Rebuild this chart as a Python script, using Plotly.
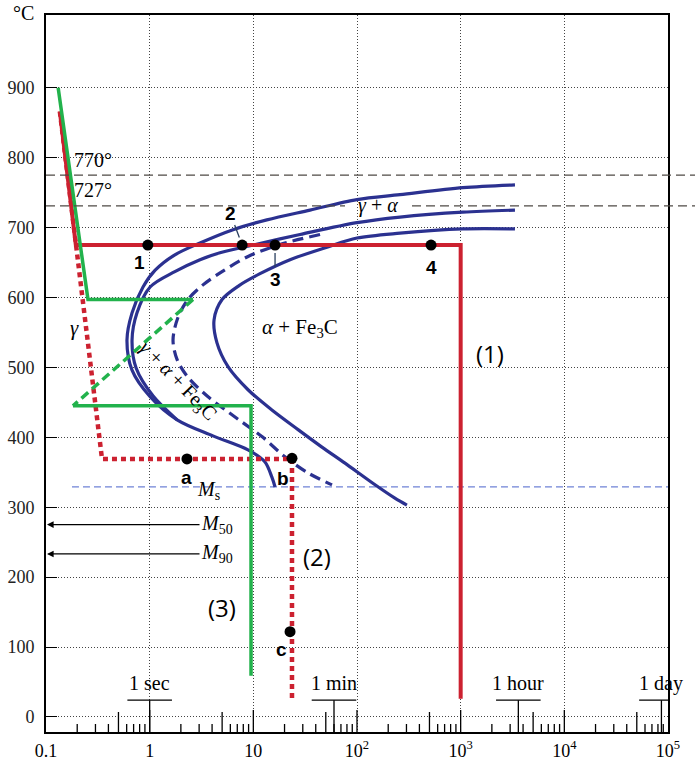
import numpy as np
import plotly.graph_objects as go

# ---------------- data (time in s, temperature in °C) ----------------
temp_ticks = [0, 100, 200, 300, 400, 500, 600, 700, 800, 900]
time_ticks = [0.1, 1, 10, 100, 1000, 1e4, 1e5]
time_tick_labels = ["0.1", "1", "10", "10<sup>2</sup>", "10<sup>3</sup>", "10<sup>4</sup>", "10<sup>5</sup>"]

# TTT curves
ferrite_start_t = [3340, 1050, 260, 100, 35.2, 13.5, 6.37, 3.06, 1.75, 1.13, 0.863, 0.676, 0.604,
                   0.676, 1.01, 1.84, 4.08, 8.89, 12.9, 15.1, 16.2]
ferrite_start_T = [761, 757, 747, 740, 725, 711, 697, 678, 661, 639, 615, 578, 539,
                   496, 458, 425, 402, 382, 365, 343, 329]
pearlite_start_t = [3340, 1050, 260, 100, 28.2, 9.93, 4.77, 3.06, 1.75, 1.01, 0.755, 0.676,
                    0.74, 1.08, 1.84]
pearlite_start_T = [725, 722, 715, 707, 690, 675, 664, 654, 637, 615, 578, 539,
                    499, 459, 425]
half_t = [44.0, 19.3, 9.29, 4.99, 3.27, 2.34, 1.87, 1.68, 1.84, 2.34, 3.66, 6.81, 12.1, 20.2, 33.7, 57.4]
half_T = [690, 677, 660, 637, 618, 597, 571, 539, 511, 486, 458, 428, 401, 372, 349, 332]
finish_t = [3340, 1050, 260, 100, 51.4, 22.6, 11.6, 7.28, 4.99, 4.18, 4.46, 5.70, 8.89, 15.1,
            27.0, 45.9, 76.6, 140, 232, 303]
finish_T = [698, 698, 692, 685, 672, 654, 634, 617, 597, 568, 535, 501, 468, 439,
            411, 386, 363, 335, 313, 303]

# cooling paths
path1_t = [0.136, 0.194, 1000, 1000]
path1_T = [866, 675, 675, 26]
path2_t = [0.136, 0.194, 0.347, 23.6, 23.6]
path2_T = [866, 675, 369, 369, 27]
path3_solid_a_t = [0.131, 0.254, 2.62]
path3_solid_a_T = [900, 597, 597]
path3_dash_t = [2.62, 0.182]
path3_dash_T = [597, 445]
path3_solid_b_t = [0.182, 9.5, 9.5]
path3_solid_b_T = [445, 445, 59]

# marked points
pts_num_t = [0.96, 7.8, 16.2, 518]
pts_num_T = [675, 675, 675, 675]
pts_let_t = [2.29, 23.6, 22.6]
pts_let_T = [369, 370, 122]

# reference temperatures
a3_T, a1_T = 775, 731
ms_T, m50_T, m90_T = 329, 278, 236

# time marks
time_mark_names = ["1 sec", "1 min", "1 hour", "1 day"]
time_mark_vals = [1, 60, 3600, 86400]

# ---------------- layout constants ----------------
XMIN, XMAX = -1, 5            # log10 range
YMIN, YMAX = -21.5, 1004
PLOT_W, PLOT_H = 622, 717
PX = (YMAX - YMIN) / PLOT_H   # °C per pixel

NAVY = "#2b3190"
RED = "#cc2130"
GREEN = "#22b24c"
SERIF = "Liberation Serif"
SANS = "Liberation Sans"

fig = go.Figure()

def line(t, T, color, width, dash="solid", shape="linear"):
    fig.add_trace(go.Scatter(x=t, y=T, mode="lines", showlegend=False, hoverinfo="skip",
                             line=dict(color=color, width=width, dash=dash, shape=shape,
                                       smoothing=0.9 if shape == "spline" else None)))

# bottom axis ticks (drawn inside)
tx, ty = [], []
for d in range(XMIN, XMAX):
    for m in range(2, 10):
        L = 20 if m == 5 else 8
        v = m * 10 ** d
        tx += [v, v, None]
        ty += [YMIN, YMIN + L * PX, None]
    if d + 1 < XMAX:
        v = 10 ** (d + 1)
        tx += [v, v, None]
        ty += [YMIN, YMIN + 22 * PX, None]
bar_T = 24
half_w = 0.215
for v in time_mark_vals:
    tx += [v, v, None, 10 ** (np.log10(v) - half_w), 10 ** (np.log10(v) + half_w), None]
    ty += [YMIN, bar_T, None, bar_T, bar_T, None]
fig.add_trace(go.Scatter(x=tx, y=ty, mode="lines", showlegend=False, hoverinfo="skip",
                         line=dict(color="black", width=1.3), cliponaxis=False))

# Ms line
line([0.178, 1e5], [ms_T, ms_T], "#6f82d6", 1.3, "7px,4px")

# TTT curves
line(ferrite_start_t, ferrite_start_T, NAVY, 3.2, shape="spline")
line(pearlite_start_t, pearlite_start_T, NAVY, 3.2, shape="spline")
line(finish_t, finish_T, NAVY, 3.2, shape="spline")
line(half_t, half_T, NAVY, 3.2, "11px,6px", shape="spline")

# cooling paths
line(path2_t, path2_T, RED, 4.5, "5px,4px")
line(path1_t, path1_T, RED, 4)
line(path3_dash_t, path3_dash_T, GREEN, 3.5, "9px,5px")
line(path3_solid_a_t, path3_solid_a_T, GREEN, 3.5)
line(path3_solid_b_t, path3_solid_b_T, GREEN, 3.5)

# points
fig.add_trace(go.Scatter(x=pts_num_t + pts_let_t, y=pts_num_T + pts_let_T, mode="markers",
                         showlegend=False, hoverinfo="skip",
                         marker=dict(color="black", size=11)))

ann = []
def text(t, T, s, size=20, family=SERIF, xshift=0, yshift=0, **kw):
    d = dict(x=np.log10(t), y=T, xref="x", yref="y", text=s, showarrow=False,
             xshift=xshift, yshift=yshift,
             font=dict(family=family, size=size, color="black"))
    d.update(kw)
    ann.append(d)

# point labels
num_shift = [(-8, -17), None, None, (0, -22)]
for i, (t, T) in enumerate(zip(pts_num_t, pts_num_T)):
    s = "<b>%d</b>" % (i + 1)
    if i == 1:
        ann.append(dict(x=np.log10(t), y=T, xref="x", yref="y", text=s, showarrow=True,
                        ax=-12, ay=-32, arrowhead=0, arrowwidth=1.3, standoff=8,
                        font=dict(family=SANS, size=19, color="black")))
    elif i == 2:
        ann.append(dict(x=np.log10(t), y=T, xref="x", yref="y", text=s, showarrow=True,
                        ax=0, ay=34, arrowhead=0, arrowwidth=1.3, standoff=8,
                        font=dict(family=SANS, size=19, color="black")))
    else:
        dx, dy = num_shift[i]
        text(t, T, s, size=19, family=SANS, xshift=dx, yshift=dy)
let_shift = [(0, -19), (-9, -20), (-9, -18)]
for name, t, T, (dx, dy) in zip("abc", pts_let_t, pts_let_T, let_shift):
    text(t, T, "<b>%s</b>" % name, size=19, family=SANS, xshift=dx, yshift=dy)

# path labels
text(1900, 520, "(1)", size=24, family="Open Sans")
text(41, 230, "(2)", size=24, family="Open Sans")
text(5.0, 156, "(3)", size=24, family="Open Sans")

# phase labels
text(0.19, 557, "<i>γ</i>", size=21)
text(159, 732, "<i>γ</i> + <i>α</i>", size=20)
text(28, 557, "<i>α</i> + Fe<sub>3</sub>C", size=21)
text(1.87, 480, "<i>γ</i> + <i>α</i> + Fe<sub>3</sub>C", size=20, textangle=46)
text(0.178, 796, "770°", size=20, xanchor="left")
text(0.178, 753, "727°", size=20, xanchor="left")

# time mark labels
for name, v in zip(time_mark_names, time_mark_vals):
    text(v, 48, name, size=20)

# Ms / M50 / M90
text(3.66, 324, "<i>M</i><sub>s</sub>", size=20)
for T, lab in [(m50_T, "<i>M</i><sub>50</sub>"), (m90_T, "<i>M</i><sub>90</sub>")]:
    ann.append(dict(x=0, xref="paper", y=T, yref="y", text=lab, showarrow=True,
                    ax=171, ay=0, arrowhead=2, arrowsize=1.1, arrowwidth=1.2,
                    arrowcolor="black", standoff=1, yshift=-2,
                    font=dict(family=SERIF, size=20, color="black")))

# °C unit label
ann.append(dict(x=-10 / PLOT_W, y=1 + 15 / PLOT_H, xref="paper", yref="paper", text="°C",
                showarrow=False, xanchor="right", yanchor="top",
                font=dict(family=SERIF, size=20, color="black")))

# A3 / A1 dashed lines (A1 interrupted behind the γ + α label)
dash_style = dict(color="#4f4a45", width=1.3, dash="9px,5px")
shapes = [
    dict(type="line", xref="paper", yref="y", x0=0, x1=1.05, y0=a3_T, y1=a3_T, line=dash_style),
    dict(type="line", xref="paper", yref="y", x0=0, x1=299 / PLOT_W, y0=a1_T, y1=a1_T, line=dash_style),
    dict(type="line", xref="paper", yref="y", x0=366 / PLOT_W, x1=1.05, y0=a1_T, y1=a1_T, line=dash_style),
]

fig.update_layout(
    width=695, height=763,
    margin=dict(l=46, r=27, t=15, b=31, autoexpand=False),
    paper_bgcolor="white", plot_bgcolor="white",
    annotations=ann, shapes=shapes, showlegend=False,
    xaxis=dict(type="log", range=[XMIN, XMAX], tickvals=time_ticks, ticktext=time_tick_labels,
               showgrid=True, gridcolor="#444", griddash="1px,2px", gridwidth=1,
               showline=True, mirror=True, linecolor="black", linewidth=2,
               ticks="", zeroline=False, ticklabelstandoff=1, automargin=False,
               tickfont=dict(family=SERIF, size=18, color="black")),
    yaxis=dict(range=[YMIN, YMAX], tickvals=temp_ticks,
               showgrid=True, gridcolor="#444", griddash="1px,2px", gridwidth=1,
               showline=True, mirror=True, linecolor="black", linewidth=2,
               ticks="inside", ticklen=11, tickcolor="black", tickwidth=1.3,
               zeroline=False, ticklabelstandoff=6, automargin=False,
               tickfont=dict(family=SERIF, size=18, color="#222")),
)

fig.write_html("out.html")
